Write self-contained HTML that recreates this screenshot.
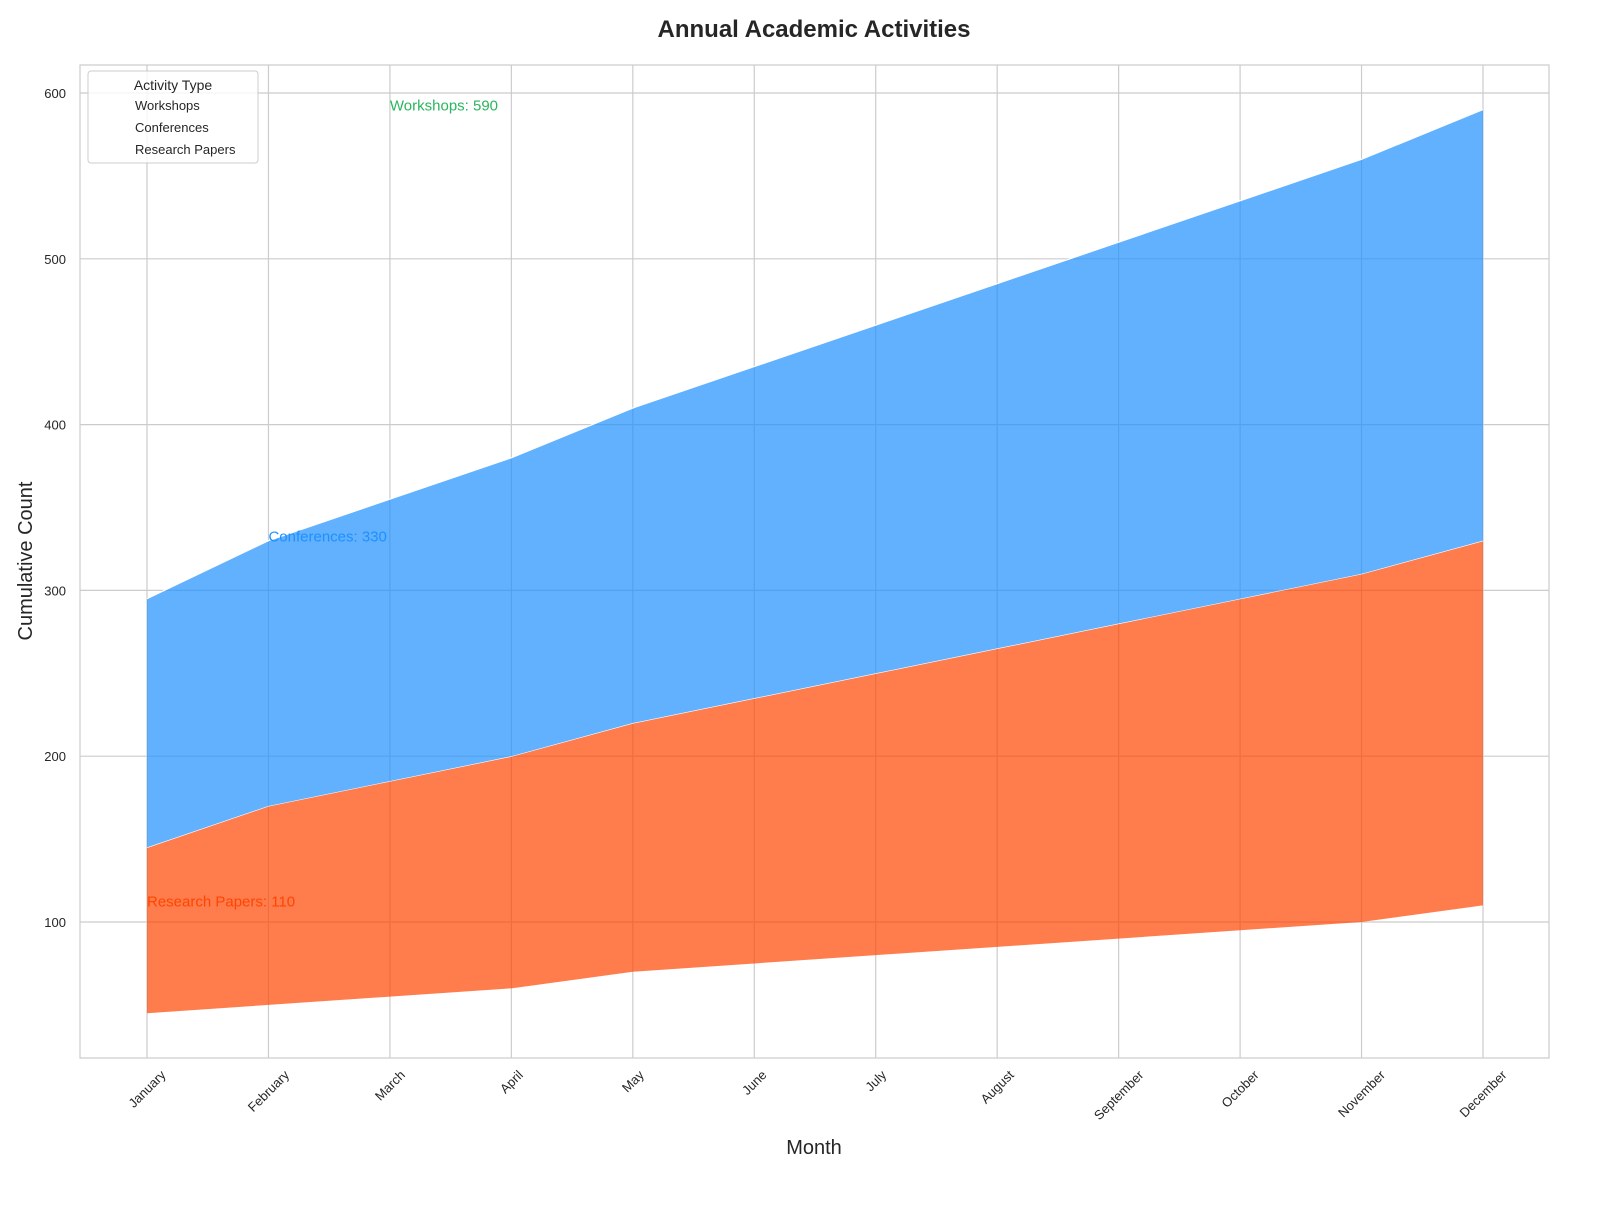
<!DOCTYPE html>
<html><head><meta charset="utf-8"><style>
body{margin:0;background:#fff}
svg text{font-family:"Liberation Sans",Arial,sans-serif}
</style></head><body>
<svg id="chart" width="1600" height="1200" xmlns="http://www.w3.org/2000/svg">
<text x="814" y="37" text-anchor="middle" font-size="24" font-weight="bold" fill="#262626">Annual Academic Activities</text>
<g id="grid"></g>
<g id="areas"></g>
<rect x="80" y="65" width="1469" height="993" fill="none" stroke="#cccccc" stroke-width="1.2"/>
<g id="ticks"></g>
<g id="annots"></g>
<text x="814" y="1154" text-anchor="middle" font-size="20" fill="#262626">Month</text>
<text transform="translate(32,561) rotate(-90)" text-anchor="middle" font-size="20" fill="#262626">Cumulative Count</text>
<g>
<rect x="88" y="71" width="170" height="92" rx="3" fill="#fff" fill-opacity="0.8" stroke="#cccccc"/>
<text x="173" y="90" text-anchor="middle" font-size="14" fill="#262626">Activity Type</text>
<text x="135" y="110" font-size="13" fill="#262626">Workshops</text>
<text x="135" y="132" font-size="13" fill="#262626">Conferences</text>
<text x="135" y="154" font-size="13" fill="#262626">Research Papers</text>
</g>
</svg>
<script>
const months=["January","February","March","April","May","June","July","August","September","October","November","December"];
const researchPapers=[45,50,55,60,70,75,80,85,90,95,100,110];
const conferencesCum=[145,170,185,200,220,235,250,265,280,295,310,330];
const workshopsCum=[295,330,355,380,410,435,460,485,510,535,560,590];
const yTicks=[100,200,300,400,500,600];
const NS="http://www.w3.org/2000/svg";
function x(i){return 147+i*(1483-147)/(months.length-1);}
function y(v){return 93+(600-v)*(922-93)/500;}
function mk(tag,attrs,parent){const e=document.createElementNS(NS,tag);for(const k in attrs)e.setAttribute(k,attrs[k]);document.getElementById(parent).appendChild(e);return e;}
yTicks.forEach(t=>{
 const l=mk("line",{x1:80,x2:1549,y1:y(t),y2:y(t),stroke:"#cccccc","stroke-width":1.2},"grid");
 
 
 const tx=mk("text",{x:66,y:y(t)+5,"text-anchor":"end","font-size":13,fill:"#262626"},"ticks");
 tx.textContent=t;
 
 
});
months.forEach((m,i)=>{
 const l=mk("line",{x1:x(i),x2:x(i),y1:65,y2:1058,stroke:"#cccccc","stroke-width":1.2},"grid");
 
 
 const tx=mk("text",{x:0,y:4.5,"text-anchor":"middle","font-size":13,fill:"#262626"},"ticks");
 tx.textContent=m;
 
 
 const w=tx.getComputedTextLength();
 const cy=1068+(w+13)*0.7071/2;
 tx.setAttribute("transform",`translate(${x(i)},${cy}) rotate(-45)`);
});
function band(lo,hi,color,name){
 let d="M"+hi.map((v,i)=>x(i)+","+y(v)).join("L");
 for(let i=lo.length-1;i>=0;i--)d+="L"+x(i)+","+y(lo[i]);
 d+="Z";
 const p=mk("path",{d:d,fill:color,"fill-opacity":0.7},"areas");
 
 
 const ln=mk("path",{d:"M"+hi.map((v,i)=>x(i)+","+y(v)).join("L"),fill:"none",stroke:"#fff","stroke-width":1.2},"areas");
 
 
}
band(researchPapers,conferencesCum,"#FF4500","research-papers-area");
band(conferencesCum,workshopsCum,"#1E90FF","workshops-area");
function ann(i,v,txt,color,name){
 const t=mk("text",{x:x(i),y:y(v)+1,"font-size":15,fill:color},"annots");
 t.textContent=txt;
 
 
}
ann(2,workshopsCum[11],"Workshops: "+workshopsCum[11],"#2ab55e","workshops-annotation");
ann(1,conferencesCum[11],"Conferences: "+conferencesCum[11],"#1E90FF","conferences-annotation");
ann(0,researchPapers[11],"Research Papers: "+researchPapers[11],"#FF4500","research-papers-annotation");
</script>
</body></html>
